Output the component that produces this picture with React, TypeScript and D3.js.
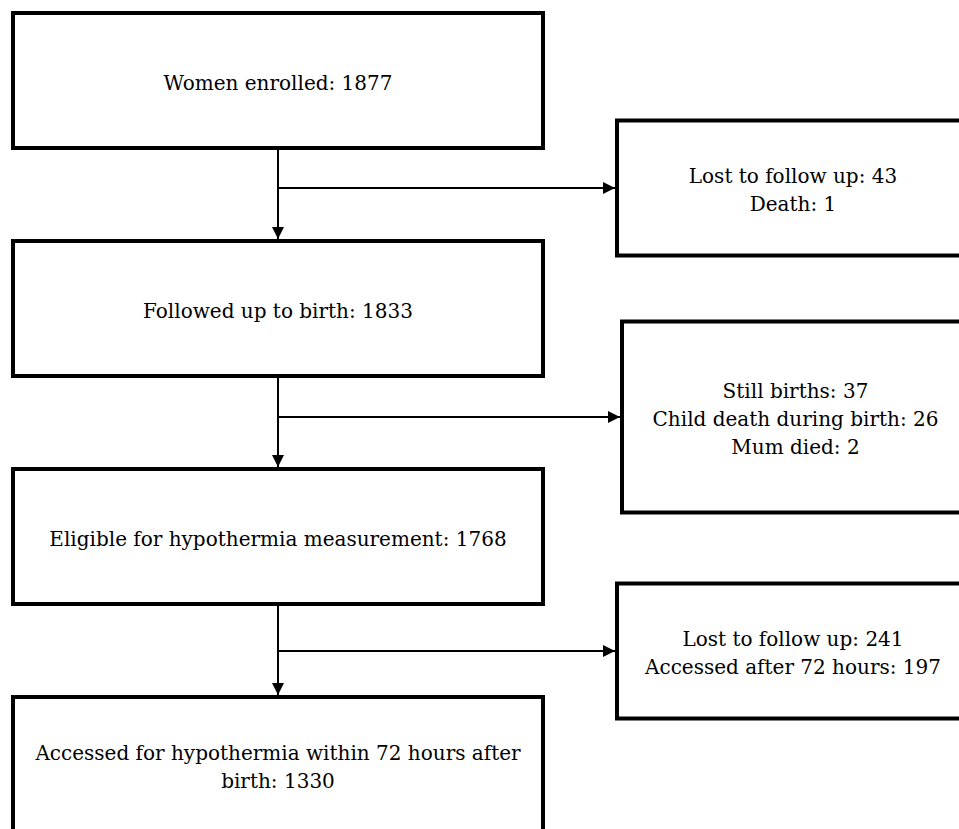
import React, { useEffect, useRef } from "react";
import * as d3 from "d3";

// flow steps (main column)
const stepLabels = [
  "Women enrolled",
  "Followed up to birth",
  "Eligible for hypothermia measurement",
  "Accessed for hypothermia within 72 hours after birth",
];
const stepCounts = [1877, 1833, 1768, 1330];

// exclusions between steps
const exclusionLabels = [
  ["Lost to follow up", "Death"],
  ["Still births", "Child death during birth", "Mum died"],
  ["Lost to follow up", "Accessed after 72 hours"],
];
const exclusionCounts = [
  [43, 1],
  [37, 26, 2],
  [241, 197],
];

const W = 959;
const H = 829;

const App = () => {
  const svgRef = useRef<SVGSVGElement>(null);

  useEffect(() => {
    const svg = d3.select(svgRef.current);
    svg.selectAll("*").remove();

    const boxLeft = 13;
    const boxRight = 543;
    const boxH = 135;
    const sideLeft = [617, 622, 617];
    const sideRight = 969;
    const branchOffset = [40, 41, 47];
    const lineH = 28;
    const baseShift = 9;
    const maxTextW = 500;
    const thick = 4;

    const yRow = d3
      .scaleLinear()
      .domain([0, stepLabels.length - 1])
      .range([13, 697]);
    const cx = (boxLeft + boxRight) / 2;

    svg
      .append("defs")
      .append("marker")
      .attr("id", "arrow")
      .attr("viewBox", "0 0 10 10")
      .attr("refX", 10)
      .attr("refY", 5)
      .attr("markerUnits", "userSpaceOnUse")
      .attr("markerWidth", 12)
      .attr("markerHeight", 12)
      .attr("orient", "auto")
      .append("path")
      .attr("d", "M0,0L10,5L0,10Z")
      .attr("fill", "#000");

    const textStyle = (t) =>
      t
        .attr("font-family", "'DejaVu Serif', serif")
        .attr("font-size", 20)
        .attr("fill", "#000")
        .attr("text-anchor", "middle");

    // wrap words into lines that fit the box
    const wrap = (str) => {
      const probe = textStyle(svg.append("text"));
      const words = str.split(" ");
      const lines = [];
      let cur = "";
      words.forEach((w) => {
        const next = cur ? cur + " " + w : w;
        probe.text(next);
        if (cur && probe.node().getComputedTextLength() > maxTextW) {
          lines.push(cur);
          cur = w;
        } else cur = next;
      });
      lines.push(cur);
      probe.remove();
      return lines;
    };

    const drawLines = (lines, x, yc) => {
      const t = textStyle(svg.append("text"));
      const y0 = yc - ((lines.length - 1) * lineH) / 2 + baseShift;
      lines.forEach((l, i) => {
        t.append("tspan").attr("x", x).attr("y", y0 + i * lineH).text(l);
      });
    };

    // connectors
    stepLabels.slice(0, -1).forEach((_, i) => {
      const yb = yRow(i) + boxH;
      const yn = yRow(i + 1);
      const yBranch = yb + branchOffset[i];
      svg
        .append("line")
        .attr("x1", cx)
        .attr("x2", cx)
        .attr("y1", yb)
        .attr("y2", yn - thick / 2)
        .attr("stroke", "#000")
        .attr("stroke-width", 2)
        .attr("marker-end", "url(#arrow)");
      svg
        .append("line")
        .attr("x1", cx)
        .attr("x2", sideLeft[i] - thick / 2)
        .attr("y1", yBranch)
        .attr("y2", yBranch)
        .attr("stroke", "#000")
        .attr("stroke-width", 2)
        .attr("marker-end", "url(#arrow)");

      // side box
      const n = exclusionLabels[i].length;
      const sh = boxH + (n - 2) * 56;
      svg
        .append("rect")
        .attr("x", sideLeft[i])
        .attr("y", yBranch - sh / 2)
        .attr("width", sideRight - sideLeft[i])
        .attr("height", sh)
        .attr("fill", "#fff")
        .attr("stroke", "#000")
        .attr("stroke-width", thick);
      drawLines(
        exclusionLabels[i].map((l, j) => `${l}: ${exclusionCounts[i][j]}`),
        (sideLeft[i] + sideRight) / 2,
        yBranch
      );
    });

    // main boxes
    stepLabels.forEach((label, i) => {
      const y = yRow(i);
      svg
        .append("rect")
        .attr("x", boxLeft)
        .attr("y", y)
        .attr("width", boxRight - boxLeft)
        .attr("height", boxH)
        .attr("fill", "#fff")
        .attr("stroke", "#000")
        .attr("stroke-width", thick);
      drawLines(wrap(`${label}: ${stepCounts[i]}`), cx, y + boxH / 2);
    });
  }, []);

  return (
    <svg
      ref={svgRef}
      width={W}
      height={H}
      style={{ position: "absolute", left: 0, top: 0, background: "#fff" }}
    ></svg>
  );
};

export default App;
